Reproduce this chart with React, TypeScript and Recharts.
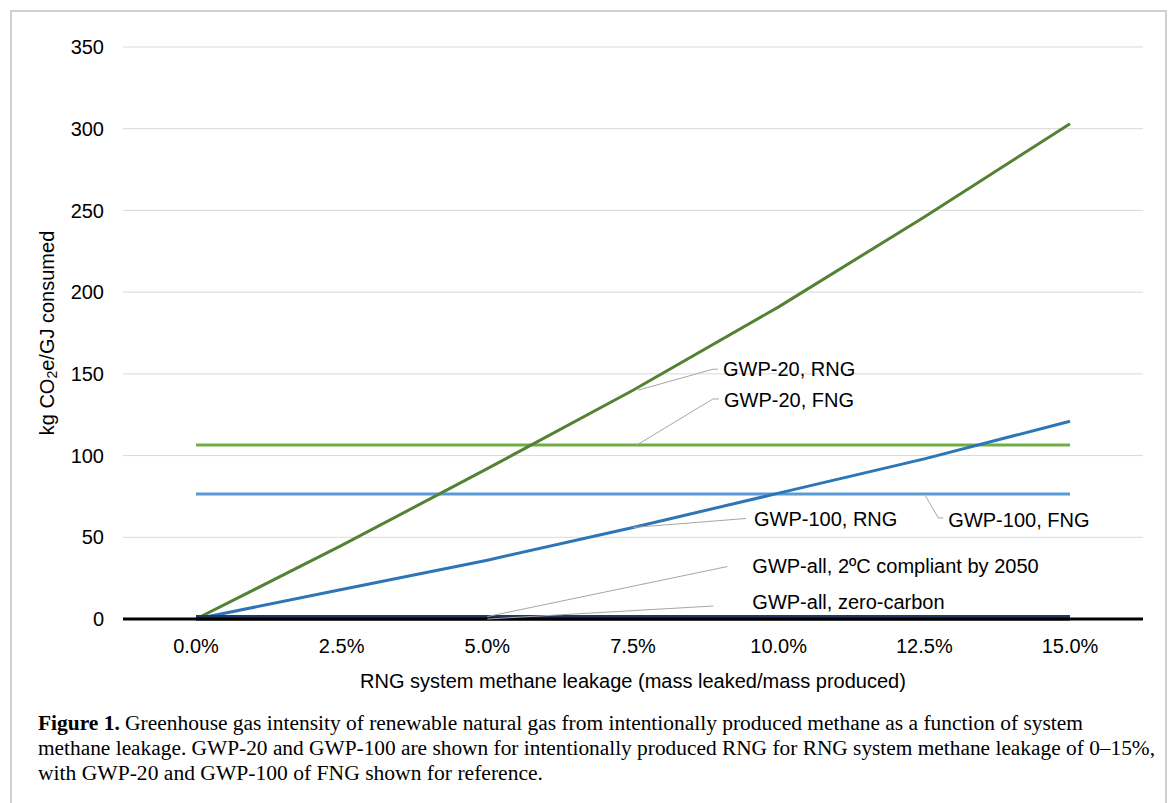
import React from "react";
import {
  LineChart,
  Line,
  XAxis,
  YAxis,
  CartesianGrid,
  LabelList,
  Label,
} from "recharts";

const categories = ["0.0%", "2.5%", "5.0%", "7.5%", "10.0%", "12.5%", "15.0%"];
const gwp20Rng = [0, 45, 92, 140, 191, 246, 303];
const gwp100Rng = [0, 18, 36, 56, 77, 98, 121];
const gwp20Fng = [106.5, 106.5, 106.5, 106.5, 106.5, 106.5, 106.5];
const gwp100Fng = [76.5, 76.5, 76.5, 76.5, 76.5, 76.5, 76.5];
const gwpAll2C = [1.5, 1.5, 1.5, 1.5, 1.5, 1.5, 1.5];
const gwpAllZero = [0, 0, 0, 0, 0, 0, 0];
const yTicks = [0, 50, 100, 150, 200, 250, 300, 350];

const captionLines = [
  "Greenhouse gas intensity of renewable natural gas from intentionally produced methane as a function of system",
  "methane leakage. GWP-20 and GWP-100 are shown for intentionally produced RNG for RNG system methane leakage of 0–15%,",
  "with GWP-20 and GWP-100 of FNG shown for reference.",
];

const data = categories.map((c, i) => ({
  leak: c,
  gwp20Rng: gwp20Rng[i],
  gwp100Rng: gwp100Rng[i],
  gwp20Fng: gwp20Fng[i],
  gwp100Fng: gwp100Fng[i],
  gwpAll2C: gwpAll2C[i],
  gwpAllZero: gwpAllZero[i],
}));

const FONT = "'Liberation Sans', Arial, sans-serif";
const SERIF = "'Liberation Serif', 'Times New Roman', serif";

// leader line + label anchored at one point of a series
function Callout(props: any) {
  const { x, y, index, at, sx = 0, sy = 0, ex, ey, hx, tx, ty, text } = props;
  if (index !== at) return null;
  return (
    <g>
      <polyline
        points={`${x + sx},${y + sy} ${x + ex},${y + ey} ${x + hx},${y + ey}`}
        fill="none"
        stroke="#a6a6a6"
        strokeWidth={1}
      />
      <text
        x={x + tx}
        y={y + ty}
        fontSize={20}
        fontFamily={FONT}
        fill="#000"
        dominantBaseline="central"
      >
        {text}
      </text>
    </g>
  );
}

const YTitle = ({ viewBox }: any) => {
  const cx = viewBox.x - 16;
  const cy = viewBox.y + viewBox.height / 2;
  return (
    <text
      x={cx}
      y={cy}
      transform={`rotate(-90, ${cx}, ${cy})`}
      textAnchor="middle"
      dominantBaseline="central"
      fontSize={20}
      fontFamily={FONT}
      fill="#000"
    >
      kg CO
      <tspan dy={5} fontSize={14}>
        2
      </tspan>
      <tspan dy={-5}>e/GJ consumed</tspan>
    </text>
  );
};

const XTitle = ({ viewBox }: any) => (
  <text
    x={viewBox.x + viewBox.width / 2}
    y={viewBox.y + 62}
    textAnchor="middle"
    dominantBaseline="central"
    fontSize={20}
    fontFamily={FONT}
    fill="#000"
  >
    RNG system methane leakage (mass leaked/mass produced)
  </text>
);

export default function App() {
  return (
    <div
      style={{
        position: "absolute",
        left: 0,
        top: 0,
        width: 1170,
        height: 803,
        background: "#fff",
        overflow: "hidden",
      }}
    >
      <div
        style={{
          position: "absolute",
          left: 10,
          top: 10,
          width: 1153,
          height: 820,
          border: "2px solid #d0d0d0",
        }}
      />
      <div style={{ position: "absolute", left: 0, top: 0 }}>
        <LineChart
          width={1170}
          height={700}
          data={data}
          margin={{ top: 47, right: 27, left: 63, bottom: 21 }}
        >
          <CartesianGrid vertical={false} stroke="#d9d9d9" strokeWidth={1} />
          <XAxis
            dataKey="leak"
            height={60}
            padding={{ left: 73, right: 73 }}
            tickLine={false}
            axisLine={{ stroke: "#000", strokeWidth: 3 }}
            tick={{ fontSize: 20, fill: "#000", fontFamily: FONT }}
            tickMargin={14}
          >
            <Label content={<XTitle />} />
          </XAxis>
          <YAxis
            width={60}
            domain={[0, 350]}
            ticks={yTicks}
            tickLine={false}
            axisLine={false}
            tick={{ fontSize: 20, fill: "#000", fontFamily: FONT }}
            tickMargin={13}
          >
            <Label content={<YTitle />} />
          </YAxis>
          <Line
            dataKey="gwp20Fng"
            stroke="#70ad47"
            strokeWidth={3}
            dot={false}
            isAnimationActive={false}
          >
            <LabelList
              dataKey="gwp20Fng"
              content={(p: any) => (
                <Callout {...p} at={3} sx={4} ex={80} ey={-46} hx={86} tx={91} ty={-45} text="GWP-20, FNG" />
              )}
            />
          </Line>
          <Line
            dataKey="gwp100Fng"
            stroke="#5b9bd5"
            strokeWidth={3}
            dot={false}
            isAnimationActive={false}
          >
            <LabelList
              dataKey="gwp100Fng"
              content={(p: any) => (
                <Callout {...p} at={5} ex={14} ey={24} hx={19} tx={24} ty={26} text="GWP-100, FNG" />
              )}
            />
          </Line>
          <Line
            dataKey="gwp20Rng"
            stroke="#548235"
            strokeWidth={3}
            dot={false}
            isAnimationActive={false}
          >
            <LabelList
              dataKey="gwp20Rng"
              content={(p: any) => (
                <Callout {...p} at={3} sx={5} ex={80} ey={-21} hx={85} tx={90} ty={-21} text="GWP-20, RNG" />
              )}
            />
          </Line>
          <Line
            dataKey="gwp100Rng"
            stroke="#2e75b6"
            strokeWidth={3}
            dot={false}
            isAnimationActive={false}
          >
            <LabelList
              dataKey="gwp100Rng"
              content={(p: any) => (
                <Callout {...p} at={3} ex={113} ey={-9} hx={113} tx={121} ty={-8} text="GWP-100, RNG" />
              )}
            />
          </Line>
          <Line
            dataKey="gwpAllZero"
            stroke="#000"
            strokeWidth={3}
            dot={false}
            isAnimationActive={false}
          >
            <LabelList
              dataKey="gwpAllZero"
              content={(p: any) => (
                <Callout {...p} at={2} ex={226} ey={-13} hx={226} tx={265} ty={-17} text="GWP-all, zero-carbon" />
              )}
            />
          </Line>
          <Line
            dataKey="gwpAll2C"
            stroke="#203864"
            strokeWidth={3}
            dot={false}
            isAnimationActive={false}
          >
            <LabelList
              dataKey="gwpAll2C"
              content={(p: any) => (
                <Callout {...p} at={2} ex={240} ey={-50} hx={240} tx={265} ty={-51} text="GWP-all, 2ºC compliant by 2050" />
              )}
            />
          </Line>
        </LineChart>
      </div>
      <svg
        width={1170}
        height={100}
        style={{ position: "absolute", left: 0, top: 703 }}
        fontFamily={SERIF}
        fontSize={20}
        fill="#000"
      >
        <text x={38} y={27} textLength={1045} lengthAdjust="spacingAndGlyphs">
          <tspan fontWeight="bold">Figure 1.</tspan> {captionLines[0]}
        </text>
        <text x={38} y={52} textLength={1117} lengthAdjust="spacingAndGlyphs">
          {captionLines[1]}
        </text>
        <text x={38} y={77} textLength={505} lengthAdjust="spacingAndGlyphs">
          {captionLines[2]}
        </text>
      </svg>
    </div>
  );
}
